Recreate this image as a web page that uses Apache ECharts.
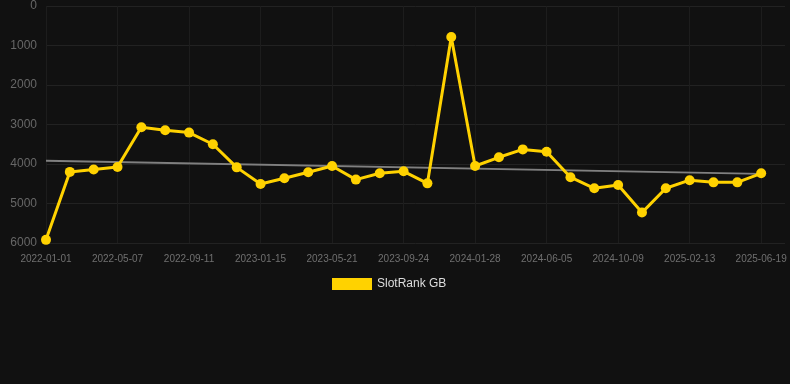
<!DOCTYPE html>
<html>
<head>
<meta charset="utf-8">
<script src="https://cdn.jsdelivr.net/npm/echarts@6/dist/echarts.min.js"></script>
<style>
html,body{margin:0;padding:0;background:#111111;}
#chart{width:790px;height:384px;}
</style>
</head>
<body>
<div id="chart"></div>
<script>
const categories = [
  '2022-01-01','2022-02-12','2022-03-26','2022-05-07','2022-06-18','2022-07-31',
  '2022-09-11','2022-10-23','2022-12-04','2023-01-15','2023-02-26','2023-04-09',
  '2023-05-21','2023-07-02','2023-08-13','2023-09-24','2023-11-05','2023-12-17',
  '2024-01-28','2024-03-10','2024-04-23','2024-06-05','2024-07-17','2024-08-28',
  '2024-10-09','2024-11-20','2025-01-01','2025-02-13','2025-03-27','2025-05-08',
  '2025-06-19',''
];
const rankValues = [
  5920, 4200, 4140, 4075, 3070, 3145, 3205, 3500, 4085, 4505, 4360,
  4210, 4050, 4395, 4235, 4185, 4490, 785, 4050, 3830, 3630,
  3690, 4335, 4615, 4530, 5230, 4615, 4410, 4465, 4465, 4235
];
const trendValues = [[0, 3920], [30, 4250]];
const yTicks = { min: 0, max: 6000, interval: 1000 };

const chart = echarts.init(document.getElementById('chart'));
chart.setOption({
  backgroundColor: '#111111',
  animation: false,
  grid: { left: 46, right: 5, top: 6, bottom: 141, containLabel: false },
  legend: {
    data: ['SlotRank GB'],
    top: 278,
    left: 332,
    icon: 'rect',
    itemWidth: 40,
    itemHeight: 12,
    itemGap: 6,
    padding: 0,
    textStyle: { color: '#dddddd', fontSize: 12, fontFamily: 'Liberation Sans, Arial, sans-serif' }
  },
  xAxis: {
    type: 'category',
    data: categories,
    boundaryGap: false,
    position: 'bottom',
    axisLine: { show: false, onZero: false },
    axisTick: { show: false },
    axisLabel: {
      interval: 2,
      color: '#707070',
      fontSize: 10,
      margin: 11,
      fontFamily: 'Liberation Sans, Arial, sans-serif'
    },
    splitLine: { show: true, interval: 2, lineStyle: { color: '#1d1d1d', width: 1 } }
  },
  yAxis: {
    type: 'value',
    inverse: true,
    min: yTicks.min,
    max: yTicks.max,
    interval: yTicks.interval,
    axisLine: { show: false },
    axisTick: { show: false },
    axisLabel: {
      color: '#676767',
      fontSize: 12,
      margin: 9,
      formatter: function (v) { return String(v); },
      fontFamily: 'Liberation Sans, Arial, sans-serif'
    },
    splitLine: { show: true, lineStyle: { color: '#222222', width: 1 } }
  },
  series: [
    {
      name: 'Trend',
      type: 'line',
      data: trendValues,
      symbol: 'none',
      lineStyle: { color: '#808080', width: 2 },
      z: 1,
      silent: true
    },
    {
      name: 'SlotRank GB',
      type: 'line',
      data: rankValues,
      symbol: 'circle',
      symbolSize: 10,
      itemStyle: { color: '#ffd200' },
      lineStyle: { color: '#ffd200', width: 3 },
      z: 2
    }
  ]
});
</script>
</body>
</html>
